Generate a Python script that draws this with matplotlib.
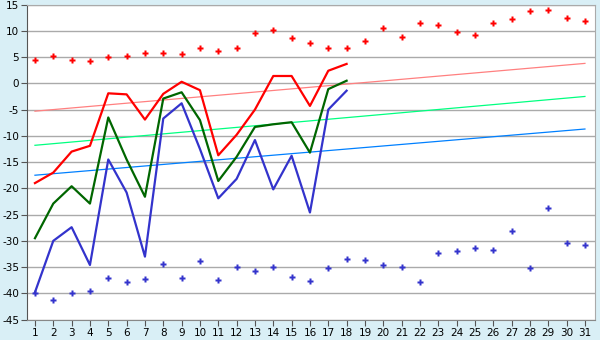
import numpy as np
import matplotlib
matplotlib.use("Agg")
import matplotlib.pyplot as plt

plt.rcParams["axes.unicode_minus"] = False

# days of the month on the x axis
days = list(range(1, 32))
days_short = list(range(1, 19))

# scattered points, upper (red) and lower (blue) band
red_pts = [4.4, 5.3, 4.4, 4.2, 5.0, 5.3, 5.8, 5.8, 5.6, 6.7, 6.1, 6.7, 9.5, 10.1, 8.6, 7.6,
           6.7, 6.7, 8.0, 10.5, 8.8, 11.4, 11.2, 9.7, 9.3, 11.4, 12.2, 13.7, 13.9, 12.4, 11.8]
blue_pts = [-40.0, -41.3, -39.9, -39.6, -37.1, -37.9, -37.3, -34.5, -37.0, -33.9, -37.5, -35.0,
            -35.8, -34.9, -36.8, -37.7, -35.2, -33.5, -33.7, -34.6, -35.0, -37.9, -32.4, -32.0,
            -31.4, -31.8, -28.2, -35.2, -23.8, -30.5, -30.7]

# the three thick lines (days 1-18)
red_line = [-19.0, -17.0, -13.0, -11.9, -1.9, -2.1, -6.9, -2.0, 0.3, -1.3, -13.7, -9.8,
            -5.0, 1.4, 1.4, -4.3, 2.4, 3.7]
green_line = [-29.5, -22.9, -19.6, -22.9, -6.5, -14.5, -21.6, -2.9, -1.7, -7.0, -18.6, -14.0,
              -8.3, -7.8, -7.4, -13.2, -1.1, 0.5]
blue_line = [-39.8, -30.0, -27.4, -34.6, -14.5, -20.8, -33.0, -6.7, -3.8, -12.5, -21.9, -18.2,
             -10.8, -20.2, -13.8, -24.6, -5.0, -1.4]

# trend lines: value on day 1 and on day 31
trend_pink = [-5.3, 3.8]
trend_green = [-11.8, -2.5]
trend_blue = [-17.5, -8.7]

bg = "#d9eff6"
fig = plt.figure(figsize=(6, 3.4), dpi=100, facecolor=bg)
ax = fig.add_axes([0.0445, 0.06, 0.9472, 0.9265])
ax.set_facecolor("white")

ax.set_xlim(0.55, 31.55)
ax.set_ylim(-45, 15)
ax.set_yticks(range(-45, 16, 5))
ax.set_xticks(days)
ax.yaxis.grid(True, color="#aaaaaa", linewidth=1)
ax.set_axisbelow(True)

ends = [days[0], days[-1]]
ax.plot(ends, trend_pink, color="#ff8080", lw=0.9)
ax.plot(ends, trend_green, color="#00ff80", lw=0.9)
ax.plot(ends, trend_blue, color="#0080ff", lw=0.9)

ax.plot(days_short, red_line, color="#ff0000", lw=1.6)
ax.plot(days_short, green_line, color="#006600", lw=1.6)
ax.plot(days_short, blue_line, color="#3333cc", lw=1.6)

ax.plot(days, red_pts, ls="none", marker="P", ms=4.2, color="#ff0000", mec="none")
ax.plot(days, blue_pts, ls="none", marker="P", ms=4.2, color="#3333cc", mec="none")

for s in ["top", "right"]:
    ax.spines[s].set_color("#aaaaaa")
ax.spines["left"].set_color("#555555")
ax.spines["bottom"].set_color("#888888")
ax.tick_params(axis="both", labelsize=7.5, length=4, color="#555555", pad=2)
ax.tick_params(axis="y", pad=1.5)

fig.savefig("out.png", dpi=100, facecolor=bg)
